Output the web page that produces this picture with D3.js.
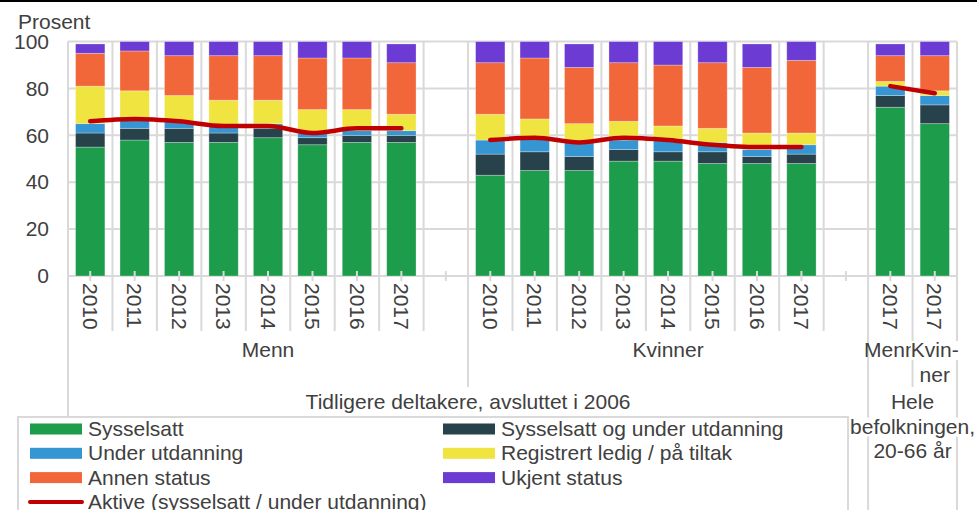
<!DOCTYPE html>
<html>
<head>
<meta charset="utf-8">
<script src="https://cdn.jsdelivr.net/npm/d3@7/dist/d3.min.js"></script>
<style>
body { margin: 0; background: #fff; }
text { font-family: "Liberation Sans", Arial, sans-serif; font-size: 21px; fill: #404040; }
</style>
</head>
<body>
<script>
// kategorier: 8 år menn, tom, 8 år kvinner, tom, hele befolkningen (menn, kvinner)
const years = ["2010", "2011", "2012", "2013", "2014", "2015", "2016", "2017"]
const catLabels = [...years, "", ...years, "", "2017", "2017"]

// prosent, null = tom kategori
const sysselsatt     = [55, 58, 57, 57, 59, 56, 57, 57, null, 43, 45, 45, 49, 49, 48, 48, 48, null, 72, 65]
const sysselsattUtd  = [ 6,  5,  6,  4,  4,  3,  3,  3, null,  9,  8,  6,  5,  4,  5,  3,  4, null,  5,  8]
const underUtd       = [ 4,  4,  3,  3,  2,  2,  2,  2, null,  6,  6,  6,  4,  5,  4,  3,  4, null,  4,  4]
const registrert     = [16, 12, 11, 11, 10, 10,  9,  7, null, 11,  8,  8,  8,  6,  6,  7,  5, null,  2,  2]
const annen          = [14, 17, 17, 19, 19, 22, 22, 22, null, 22, 26, 24, 25, 26, 28, 28, 31, null, 11, 15]
const ukjent         = [ 4,  4,  6,  6,  6,  7,  7,  8, null,  9,  7, 10,  9, 10,  9, 10,  8, null,  5,  6]
const aktive         = [66, 67, 66, 64, 64, 61, 63, 63, null, 58, 59, 57, 59, 58, 56, 55, 55, null, 81, 78]

const seriesNames = ["Sysselsatt", "Sysselsatt og under utdanning", "Under utdanning",
                     "Registrert ledig / på tiltak", "Annen status", "Ukjent status"]
const seriesValues = [sysselsatt, sysselsattUtd, underUtd, registrert, annen, ukjent]
const colors = ["#1d9c4b", "#27424a", "#3596d3", "#f0e440", "#f2673a", "#6b3bd4"]
const lineName = "Aktive (sysselsatt / under utdanning)"
const yTicks = [0, 20, 40, 60, 80, 100]

// grupper på nivå 2 og 3 (fra/til kategori-indeks)
const level2 = [
  {lines: ["Menn"], from: 0, to: 8},
  {lines: ["Kvinner"], from: 9, to: 17},
  {lines: ["Menn"], from: 18, to: 18},
  {lines: ["Kvin-", "ner"], from: 19, to: 19, bg: true}
]
const level3 = [
  {lines: ["Tidligere deltakere, avsluttet i 2006"], from: 0, to: 17},
  {lines: ["Hele", "befolkningen,", "20-66 år"], from: 18, to: 19, bg: true}
]

const W = 977, H = 510
const x0 = 68, x1 = 957
const grid = "#d9d9d9"

let svg = d3.select("body").append("svg").attr("width", W).attr("height", H)

let keys = catLabels.map((d, i) => "c" + i)
let x = d3.scaleBand().domain(keys).range([x0, x1]).paddingInner(0.34).paddingOuter(0.17)
let step = x.step()
let y = d3.scaleLinear().domain([0, 100]).range([276, 41.6])

// topplinje
svg.append("rect").attr("x", 0).attr("y", 0).attr("width", W).attr("height", 2).attr("fill", "#000")

// rutenett
svg.append("g").selectAll("line").data(yTicks).join("line")
  .attr("x1", x0).attr("x2", x1)
  .attr("y1", d => y(d)).attr("y2", d => y(d))
  .attr("stroke", grid).attr("stroke-width", 2)
svg.append("g").selectAll("line").data(d3.range(21)).join("line")
  .attr("x1", k => x0 + k*step).attr("x2", k => x0 + k*step)
  .attr("y1", y(100)).attr("y2", y(0))
  .attr("stroke", grid).attr("stroke-width", 2)

// stablede søyler
let table = keys.map((k, i) => {
  let row = {key: k}
  seriesNames.forEach((s, j) => row[s] = seriesValues[j][i] || 0)
  return row
})
let stack = d3.stack().keys(seriesNames)(table)
svg.append("g").selectAll("g").data(stack).join("g")
  .attr("fill", (d, i) => colors[i])
  .selectAll("rect")
  .data(d => d.filter((p, i) => sysselsatt[i] != null))
  .join("rect")
  .attr("x", d => x(d.data.key))
  .attr("width", x.bandwidth())
  .attr("y", d => y(d[1]))
  .attr("height", d => y(d[0]) - y(d[1]))
  .attr("stroke", "rgba(255,255,255,0.35)").attr("stroke-width", 0.8)

// linje for aktive
let line = d3.line()
  .defined(d => d != null)
  .x((d, i) => x(keys[i]) + x.bandwidth()/2)
  .y(d => y(d))
  .curve(d3.curveMonotoneX)
svg.append("path").datum(aktive)
  .attr("d", line)
  .attr("fill", "none").attr("stroke", "#c00000")
  .attr("stroke-width", 4.5).attr("stroke-linecap", "round").attr("stroke-linejoin", "round")

// y-akse
let yAxis = svg.append("g").attr("transform", `translate(${x0},0)`)
  .call(d3.axisLeft(y).tickValues(yTicks).tickSize(0).tickPadding(19))
yAxis.select(".domain").remove()
yAxis.selectAll("text").style("font-size", "21px").style("font-family", null).attr("fill", "#404040")

svg.append("text").attr("x", 18).attr("y", 29).text("Prosent")

// x-akse, nivå 1 (år)
let xAxis = svg.append("g").attr("transform", `translate(0,${y(0)})`)
  .call(d3.axisBottom(x).tickFormat((d, i) => catLabels[i]).tickSizeOuter(0))
xAxis.select(".domain").remove()
xAxis.selectAll(".tick line").attr("y1", -5).attr("y2", 5).attr("stroke", grid).attr("stroke-width", 2)
xAxis.selectAll(".tick text")
  .attr("transform", "rotate(90)")
  .attr("x", 7).attr("y", 0).attr("dy", "0.35em")
  .style("text-anchor", "start").style("font-size", "21px").style("font-family", null)
  .attr("fill", "#404040")

// skillelinjer i kategoriaksen
let sep = svg.append("g").attr("stroke", grid).attr("stroke-width", 2)
d3.range(21).forEach(k => {
  let xx = x0 + k*step
  let yEnd = 331
  if ([0, 9, 18, 19, 20].includes(k)) yEnd = 387
  if (k == 0) yEnd = 420
  if (k == 18 || k == 20) yEnd = H
  sep.append("line").attr("x1", xx).attr("x2", xx).attr("y1", y(0)).attr("y2", yEnd)
})

function groupLabels(groups, y0) {
  groups.forEach(g => {
    let cx = x0 + (g.from + g.to + 1)/2*step
    g.lines.forEach((t, i) => {
      let txt = svg.append("text")
        .attr("x", cx).attr("y", y0 + i*24.5)
        .attr("text-anchor", "middle").text(t)
      if (g.bg) {
        let b = txt.node().getBBox()
        svg.insert("rect", () => txt.node())
          .attr("x", b.x).attr("y", b.y + 3).attr("width", b.width).attr("height", b.height - 4)
          .attr("fill", "#fff")
      }
    })
  })
}
groupLabels(level2, 357)
groupLabels(level3, 409)

// forklaring
let leg = svg.append("g")
leg.append("rect").attr("x", 18).attr("y", 417).attr("width", 830).attr("height", 120)
  .attr("fill", "#fff").attr("stroke", grid).attr("stroke-width", 2)
let colX = [30, 443]
seriesNames.forEach((s, i) => {
  let cx = colX[i % 2], by = 436 + Math.floor(i/2)*24.3
  leg.append("rect").attr("x", cx).attr("y", by - 12.5).attr("width", 52).attr("height", 11).attr("fill", colors[i])
  leg.append("text").attr("x", cx + 58).attr("y", by).text(s)
})
let ly = 436 + 3*24.3
leg.append("line").attr("x1", colX[0]).attr("x2", colX[0] + 52).attr("y1", ly - 7).attr("y2", ly - 7)
  .attr("stroke", "#c00000").attr("stroke-width", 4).attr("stroke-linecap", "round")
leg.append("text").attr("x", colX[0] + 58).attr("y", ly).text(lineName)
</script>
</body>
</html>
